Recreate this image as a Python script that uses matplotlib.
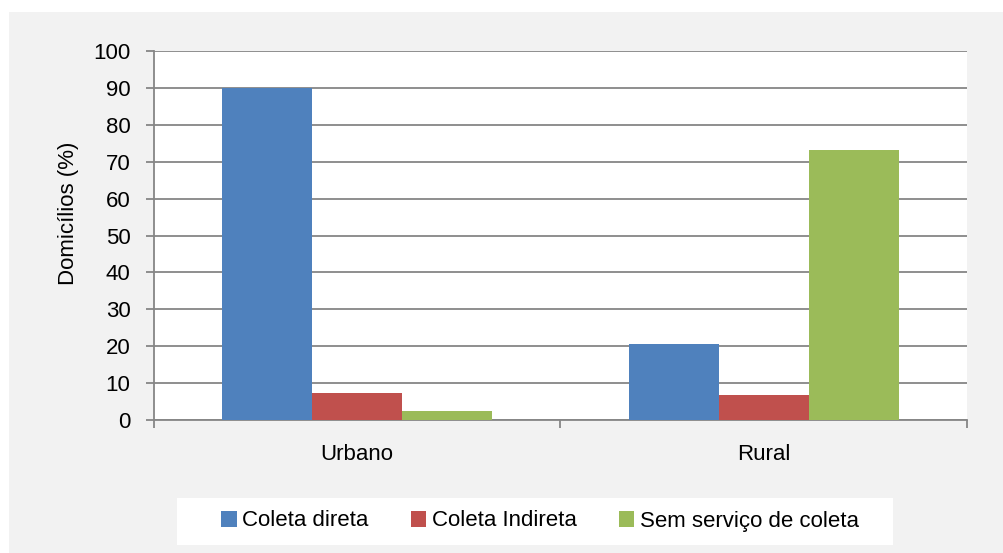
import numpy as np
import matplotlib.pyplot as plt
from matplotlib.patches import Rectangle

# data
categories = ['Urbano', 'Rural']
series = ['Coleta direta', 'Coleta Indireta', 'Sem serviço de coleta']
coleta_direta = [90.1, 20.6]
coleta_indireta = [7.4, 6.7]
sem_servico = [2.5, 73.1]
colors = ['#4f81bd', '#c0504d', '#9bbb59']

plt.rcParams['font.family'] = ['Liberation Sans', 'DejaVu Sans']
fs = 16

fig = plt.figure(figsize=(10.04, 5.53), dpi=100)
fig.patch.set_facecolor('white')
# gray chart area background
fig.patches.append(Rectangle((9 / 1004, 0), 1, 1 - 12 / 553, transform=fig.transFigure,
                             facecolor='#f2f2f2', edgecolor='none', zorder=-2))

ax = fig.add_axes([154 / 1004, 1 - 420 / 553, 813 / 1004, 369 / 553])
ax.set_zorder(2)
ax.set_facecolor('white')

x = np.arange(len(categories)) + 0.5
w = 90 / 406
for i, (vals, name) in enumerate(zip([coleta_direta, coleta_indireta, sem_servico], series)):
    ax.bar(x + (i - 1) * w, vals, width=w, color=colors[i], label=name, zorder=3)

ax.set_xlim(0, 2)
ax.set_ylim(0, 100)
ax.set_yticks(np.arange(0, 101, 10))
ax.grid(axis='y', color='#868686', linewidth=1.3, zorder=0)

# category boundary ticks, labels in the middle
ax.set_xticks([0, 1, 2])
ax.set_xticklabels([])
ax.set_xticks(x, minor=True)
ax.set_xticklabels(categories, minor=True, fontsize=fs)
ax.tick_params(axis='x', which='major', length=6, color='#868686', width=1.3)
ax.tick_params(axis='x', which='minor', length=0, pad=17)
ax.tick_params(axis='y', length=6, color='#868686', width=1.3, pad=11, labelsize=fs)

for s in ['top', 'right']:
    ax.spines[s].set_visible(False)
for s in ['left', 'bottom']:
    ax.spines[s].set_color('#868686')
    ax.spines[s].set_linewidth(1.3)

fig.text(69 / 1004, 1 - 213 / 553, 'Domicílios (%)', rotation=90, ha='center', va='center',
         fontsize=fs)

# legend box
fig.patches.append(Rectangle((177 / 1004, 1 - 545 / 553), 716 / 1004, 47 / 553,
                             transform=fig.transFigure, facecolor='white', edgecolor='none', zorder=-1))
fig.legend(loc='center', bbox_to_anchor=(540 / 1004, 1 - 521 / 553), ncol=3, frameon=False,
           fontsize=fs, handlelength=0.7, handleheight=0.75, handletextpad=0.25,
           columnspacing=1.9)

fig.savefig('out.png', dpi=100)
